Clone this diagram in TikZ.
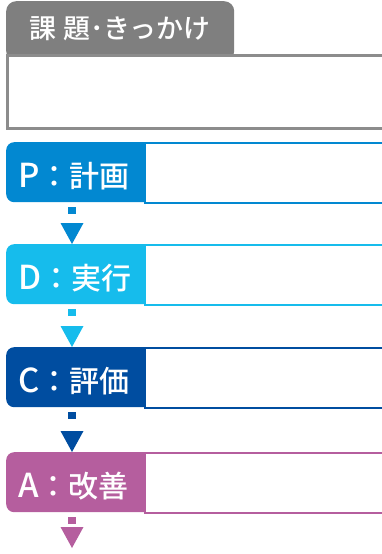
\documentclass[tikz,border=0pt]{standalone}
\usepackage{fontspec}
\setmainfont{Noto Sans CJK JP Medium}
\usetikzlibrary{arrows.meta,positioning}
\definecolor{tabgray}{HTML}{7F7F7F}
\definecolor{boxgray}{HTML}{8C8C8C}
\definecolor{colP}{HTML}{0288D1}
\definecolor{colD}{HTML}{16BCEC}
\definecolor{colC}{HTML}{004DA0}
\definecolor{colA}{HTML}{B55E9E}
\newcommand{\stageletter}[1]{{\fontsize{33}{33}\selectfont #1}}
\begin{document}
\begin{tikzpicture}[x=1pt, y=-1pt,
		tab/.style={fill=tabgray, text=white, rounded corners=10pt,
			font=\fontsize{27}{27}\selectfont, inner sep=0pt, minimum width=228pt,
			text height=37pt, text depth=23pt, anchor=north west},
		topicbox/.style={draw=boxgray, line width=2.5pt, fill=white, inner sep=0pt,
			minimum width=420pt, minimum height=73pt, anchor=north west},
		stagelabel/.style={fill=#1, text=white, rounded corners=8pt,
			font=\fontsize{30}{30}\selectfont, inner xsep=12pt, inner ysep=0pt,
			text width=126pt, align=left, text height=45pt, text depth=15pt,
			anchor=north west},
		stagebox/.style={draw=#1, line width=1.6pt, fill=white, inner sep=0pt,
			minimum width=260pt, minimum height=60pt, anchor=north west},
		stagearrow/.style={draw=#1, line width=8pt,
			dash pattern=on 0pt off 5pt on 7pt off 60pt,
			-{Triangle[width=23pt, length=21pt, line width=0pt, fill=#1]}}]
	\useasboundingbox (0,0) rectangle (382,554);
	\clip (0,0) rectangle (382,554);

	% issue tab and box
	\node[tab] (tab) at (6,1) {課 題･きっかけ};
	\node[topicbox] (topic) at (6,54) {};

	% PDCA stages
	\node[stagelabel=colP] (P) at (6,142) {\stageletter{P}：計画};
	\node[stagebox=colP] (Pbox) at ([xshift=-12pt]P.north east) {};

	\node[stagelabel=colD] (D) at (6,244) {\stageletter{D}：実行};
	\node[stagebox=colD] (Dbox) at ([xshift=-12pt]D.north east) {};

	\node[stagelabel=colC] (C) at (6,347) {\stageletter{C}：評価};
	\node[stagebox=colC] (Cbox) at ([xshift=-12pt]C.north east) {};

	\node[stagelabel=colA] (A) at (6,452) {\stageletter{A}：改善};
	\node[stagebox=colA] (Abox) at ([xshift=-12pt]A.north east) {};

	\coordinate (end) at (72,548);

	\draw[stagearrow=colP] ([xshift=66pt]P.south west) -- ([xshift=66pt]D.north west);
	\draw[stagearrow=colD] ([xshift=66pt]D.south west) -- ([xshift=66pt]C.north west);
	\draw[stagearrow=colC] ([xshift=66pt]C.south west) -- ([xshift=66pt]A.north west);
	\draw[stagearrow=colA] ([xshift=66pt]A.south west) -- (end);
\end{tikzpicture}
\end{document}
